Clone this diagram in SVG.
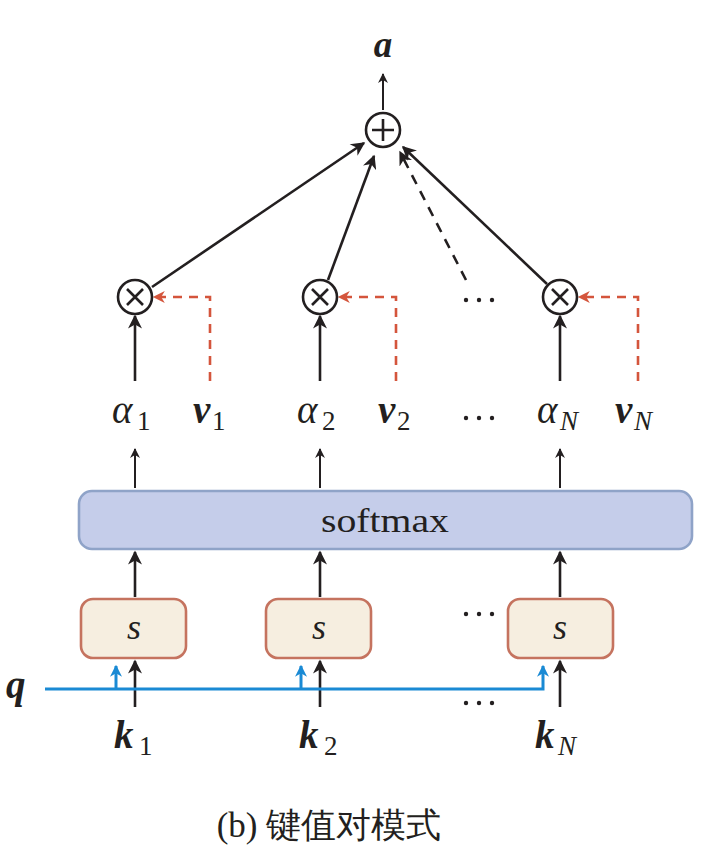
<svg xmlns="http://www.w3.org/2000/svg" width="724" height="860" viewBox="0 0 724 860">
<defs>
<marker id="ab" viewBox="0 0 10 10" refX="9" refY="5" markerWidth="10" markerHeight="10" markerUnits="userSpaceOnUse" orient="auto"><path d="M0,0 L10,5 L0,10 L3,5 Z" fill="#231f20"/></marker>
<marker id="abl" viewBox="0 0 10 10" refX="9" refY="5" markerWidth="16" markerHeight="14" markerUnits="userSpaceOnUse" orient="auto"><path d="M0,0 L10,5 L0,10 L3,5 Z" fill="#231f20"/></marker>
<marker id="ar" viewBox="0 0 10 10" refX="9" refY="5" markerWidth="14" markerHeight="12" markerUnits="userSpaceOnUse" orient="auto"><path d="M0,0 L10,5 L0,10 L3,5 Z" fill="#d4553c"/></marker>
<marker id="abu" viewBox="0 0 10 10" refX="9" refY="5" markerWidth="14" markerHeight="12" markerUnits="userSpaceOnUse" orient="auto"><path d="M0,0 L10,5 L0,10 L3,5 Z" fill="#1a8ad4"/></marker>
</defs>
<style>
.ln{stroke:#231f20;stroke-width:2.6;fill:none}
.lt{stroke:#231f20;stroke-width:2;fill:none}
.rd{stroke:#d4553c;stroke-width:2.6;fill:none;stroke-dasharray:9,7}
.bl{stroke:#1a8ad4;stroke-width:3;fill:none}
.op{fill:#fff;stroke:#231f20;stroke-width:2.6}
.sbox{fill:#f6eee0;stroke:#c5735f;stroke-width:2.6}
.t{font-family:"Liberation Serif","DejaVu Serif",serif;fill:#231f20}
.it{font-style:italic}
.b{font-weight:bold;font-style:italic}
.m{font-size:39px}
.sub{font-size:27px}
.dot{fill:#231f20}
</style>
<rect width="724" height="860" fill="#fff"/>
<g id="connectors">
<line class="lt" x1="383" y1="110" x2="383" y2="74" marker-end="url(#ab)"/>
<line class="ln" x1="152" y1="287" x2="364" y2="143" marker-end="url(#abl)"/>
<line class="ln" x1="328" y1="280" x2="374" y2="156" marker-end="url(#abl)"/>
<line class="ln" x1="466" y1="280" x2="400" y2="152" stroke-dasharray="10,8" marker-end="url(#abl)"/>
<line class="ln" x1="547" y1="284" x2="403" y2="147" marker-end="url(#abl)"/>
<line class="ln" x1="135" y1="381" x2="135" y2="316" marker-end="url(#abl)"/>
<line class="ln" x1="320" y1="381" x2="320" y2="316" marker-end="url(#abl)"/>
<line class="ln" x1="560" y1="381" x2="560" y2="316" marker-end="url(#abl)"/>
<polyline class="rd" points="210,381 210,297 154,297" marker-end="url(#ar)"/>
<polyline class="rd" points="396,381 396,297 339,297" marker-end="url(#ar)"/>
<polyline class="rd" points="638,381 638,297 579,297" marker-end="url(#ar)"/>
<line class="lt" x1="135" y1="488" x2="135" y2="449" marker-end="url(#ab)"/>
<line class="lt" x1="320" y1="488" x2="320" y2="449" marker-end="url(#ab)"/>
<line class="lt" x1="560" y1="488" x2="560" y2="449" marker-end="url(#ab)"/>
<line class="ln" x1="135" y1="597" x2="135" y2="552" marker-end="url(#abl)"/>
<line class="ln" x1="320" y1="597" x2="320" y2="552" marker-end="url(#abl)"/>
<line class="ln" x1="560" y1="597" x2="560" y2="552" marker-end="url(#abl)"/>
<line class="ln" x1="135" y1="707" x2="135" y2="661" marker-end="url(#abl)"/>
<line class="ln" x1="320" y1="707" x2="320" y2="661" marker-end="url(#abl)"/>
<line class="ln" x1="560" y1="707" x2="560" y2="661" marker-end="url(#abl)"/>
<polyline class="bl" points="45,689 543,689 543,666" marker-end="url(#abu)"/>
<line class="bl" x1="116" y1="689" x2="116" y2="666" marker-end="url(#abu)"/>
<line class="bl" x1="301" y1="689" x2="301" y2="666" marker-end="url(#abu)"/>
</g>
<g id="sum">
<circle class="op" cx="383" cy="130" r="17"/>
<path class="ln" d="M372,130 H394 M383,119 V141"/>
</g>
<g id="mul1"><circle class="op" cx="135" cy="297" r="17"/><path class="ln" d="M127,289 L143,305 M143,289 L127,305"/></g>
<g id="mul2"><circle class="op" cx="320" cy="297" r="17"/><path class="ln" d="M312,289 L328,305 M328,289 L312,305"/></g>
<g id="mulN"><circle class="op" cx="560" cy="297" r="17"/><path class="ln" d="M552,289 L568,305 M568,289 L552,305"/></g>
<g id="softmax">
<rect x="79" y="491" width="613" height="58" rx="13" fill="#c5cdea" stroke="#8fa3c8" stroke-width="2.6"/>
<text class="t" x="321" y="532" font-size="33" textLength="128" lengthAdjust="spacingAndGlyphs">softmax</text>
</g>
<g id="s1"><rect class="sbox" x="81" y="599" width="105" height="59" rx="12"/><text class="t it" x="134" y="639" font-size="36" text-anchor="middle">s</text></g>
<g id="s2"><rect class="sbox" x="266" y="599" width="105" height="59" rx="12"/><text class="t it" x="319" y="639" font-size="36" text-anchor="middle">s</text></g>
<g id="sN"><rect class="sbox" x="508" y="599" width="105" height="59" rx="12"/><text class="t it" x="560" y="639" font-size="36" text-anchor="middle">s</text></g>
<g id="labels">
<text class="t b" x="383" y="57" font-size="37" text-anchor="middle">a</text>
<text class="t it m" x="112" y="423">α</text><text class="t sub" x="137" y="430">1</text>
<text class="t it m" x="297" y="423">α</text><text class="t sub" x="322" y="430">2</text>
<text class="t it m" x="537" y="423">α</text><text class="t it sub" x="560" y="430">N</text>
<text class="t b m" x="193" y="423">v</text><text class="t sub" x="212" y="430">1</text>
<text class="t b m" x="378" y="423">v</text><text class="t sub" x="397" y="430">2</text>
<text class="t b m" x="615" y="423">v</text><text class="t it sub" x="634" y="430">N</text>
<text class="t b m" x="114" y="748">k</text><text class="t sub" x="139" y="755">1</text>
<text class="t b m" x="299" y="748">k</text><text class="t sub" x="324" y="755">2</text>
<text class="t b m" x="535" y="748">k</text><text class="t it sub" x="558" y="755">N</text>
<text class="t b m" x="6" y="698">q</text>
<text class="t" x="329" y="837" font-size="35" text-anchor="middle" font-family="'Liberation Serif','Noto Sans CJK SC',serif">(b) 键值对模式</text>
</g>
<g id="dots">
<circle class="dot" cx="466" cy="300" r="2.2"/><circle class="dot" cx="479" cy="300" r="2.2"/><circle class="dot" cx="492" cy="300" r="2.2"/>
<circle class="dot" cx="466" cy="418" r="2.2"/><circle class="dot" cx="479" cy="418" r="2.2"/><circle class="dot" cx="492" cy="418" r="2.2"/>
<circle class="dot" cx="466" cy="614" r="2.2"/><circle class="dot" cx="479" cy="614" r="2.2"/><circle class="dot" cx="492" cy="614" r="2.2"/>
<circle class="dot" cx="466" cy="703" r="2.2"/><circle class="dot" cx="479" cy="703" r="2.2"/><circle class="dot" cx="492" cy="703" r="2.2"/>
</g>
</svg>
